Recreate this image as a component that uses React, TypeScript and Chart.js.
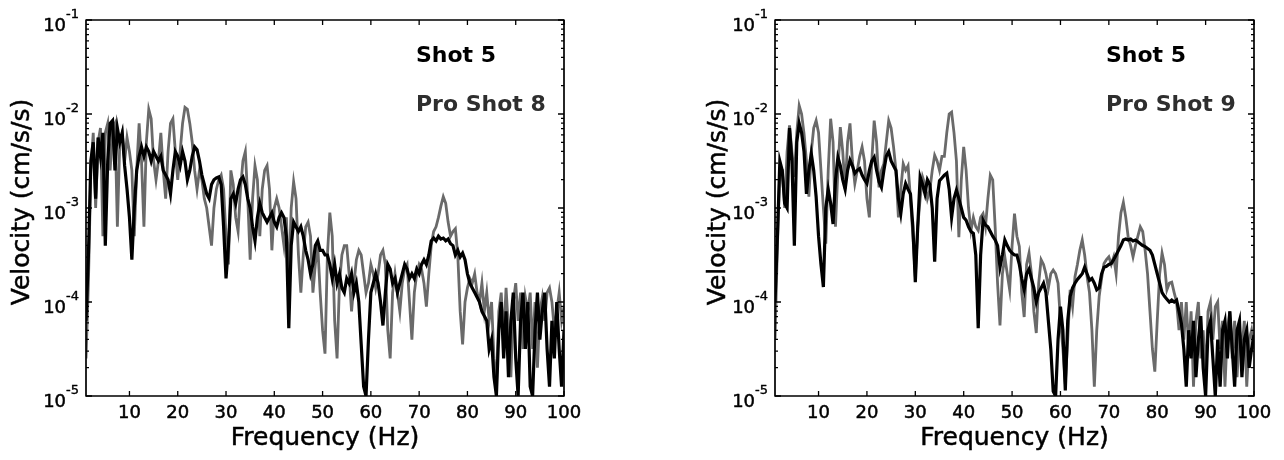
import React, { useEffect, useRef } from "react";
import { Chart, registerables } from "chart.js";

Chart.register(...registerables);

// Frequency grid (Hz)
const freqHz = [
  1, 1.5, 2, 2.5, 3, 3.5, 4, 4.5, 5, 5.5,
  6, 6.5, 7, 7.5, 8, 8.5, 9, 9.5, 10, 10.5,
  11, 11.5, 12, 12.5, 13, 13.5, 14, 14.5, 15, 15.5,
  16, 16.5, 17, 17.5, 18, 18.5, 19, 19.5, 20, 20.5,
  21, 21.5, 22, 22.5, 23, 23.5, 24, 24.5, 25, 25.5,
  26, 26.5, 27, 27.5, 28, 28.5, 29, 29.5, 30, 30.5,
  31, 31.5, 32, 32.5, 33, 33.5, 34, 34.5, 35, 35.5,
  36, 36.5, 37, 37.5, 38, 38.5, 39, 39.5, 40, 40.5,
  41, 41.5, 42, 42.5, 43, 43.5, 44, 44.5, 45, 45.5,
  46, 46.5, 47, 47.5, 48, 48.5, 49, 49.5, 50, 50.5,
  51, 51.5, 52, 52.5, 53, 53.5, 54, 54.5, 55, 55.5,
  56, 56.5, 57, 57.5, 58, 58.5, 59, 59.5, 60, 60.5,
  61, 61.5, 62, 62.5, 63, 63.5, 64, 64.5, 65, 65.5,
  66, 66.5, 67, 67.5, 68, 68.5, 69, 69.5, 70, 70.5,
  71, 71.5, 72, 72.5, 73, 73.5, 74, 74.5, 75, 75.5,
  76, 76.5, 77, 77.5, 78, 78.5, 79, 79.5, 80, 80.5,
  81, 81.5, 82, 82.5, 83, 83.5, 84, 84.5, 85, 85.5,
  86, 86.5, 87, 87.5, 88, 88.5, 89, 89.5, 90, 90.5,
  91, 91.5, 92, 92.5, 93, 93.5, 94, 94.5, 95, 95.5,
  96, 96.5, 97, 97.5, 98, 98.5, 99, 99.5, 100,
];

// Velocity values stored as log10(cm/s/s)
const shot5LeftLog = [
  -4.2, -3.5, -2.5, -2.3, -2.9, -2.25, -2.45, -2.2, -3.4, -2.5,
  -2.1, -2.07, -2.6, -2.15, -2.3, -2.2, -2.55, -2.8, -3.1, -3.55,
  -3.0, -2.6, -2.45, -2.35, -2.45, -2.35, -2.4, -2.5, -2.4, -2.45,
  -2.5, -2.45, -2.6, -2.65, -2.7, -2.85, -2.6, -2.4, -2.45, -2.55,
  -2.4, -2.5, -2.7, -2.6, -2.45, -2.35, -2.38, -2.5, -2.65, -2.75,
  -2.85, -2.9, -2.75, -2.7, -2.68, -2.67, -2.75, -3.2, -3.75, -3.4,
  -2.9, -2.85, -2.95, -2.8, -2.7, -2.67, -2.75, -2.9, -3.0, -3.2,
  -3.35, -3.1, -2.95, -3.05, -3.1, -3.15, -3.1, -3.05, -3.15, -3.2,
  -3.1, -3.05, -3.1, -3.3, -4.28, -3.4, -3.15, -3.2, -3.25, -3.2,
  -3.3, -3.45, -3.55, -3.7, -3.6, -3.4, -3.35, -3.45, -3.45, -3.5,
  -3.5, -3.6, -3.75, -3.6, -3.8, -3.7, -3.85, -3.9, -3.75, -3.8,
  -3.7, -3.9, -3.8, -4.0, -4.45, -4.9, -5.0, -4.4, -3.9, -3.8,
  -3.7, -3.8, -4.0, -4.25, -3.9, -3.6, -3.65, -3.8, -3.75, -3.9,
  -3.8, -3.7, -3.6, -3.65, -3.75, -3.7, -3.75, -3.65, -3.7, -3.6,
  -3.55, -3.6, -3.5, -3.35, -3.32, -3.35, -3.3, -3.33, -3.32, -3.35,
  -3.33, -3.38, -3.4, -3.5, -3.45, -3.52, -3.48, -3.55, -3.7, -3.8,
  -3.85, -3.9, -3.95, -4.0, -4.1, -4.15, -4.2, -4.5, -4.4, -4.8,
  -5.0, -4.3, -4.0, -4.6, -4.1, -4.8, -4.2, -3.9, -4.6, -5.0,
  -4.2, -3.9, -4.5, -4.0, -4.9, -5.0, -4.3, -3.9, -4.4, -4.1,
  -3.9, -4.5, -4.9, -4.2, -4.6, -4.0, -4.5, -4.9, -4.3,
];

const proShot8Log = [
  -4.6, -3.8, -2.6, -2.2, -3.0, -2.3, -2.15, -3.3, -2.2, -2.1,
  -2.6, -2.15, -2.1, -3.2, -2.3, -2.2, -2.5, -2.25, -2.4, -2.6,
  -3.3, -2.6, -2.1, -2.5, -3.2, -2.3, -1.95, -2.05, -2.5, -2.7,
  -2.5, -2.2, -2.6, -2.9, -2.4, -2.1, -2.05, -2.4, -2.7, -2.4,
  -2.1, -1.93, -1.95, -2.1, -2.3, -2.6, -2.8, -2.6, -2.7, -2.9,
  -3.0, -3.2, -3.4, -3.0, -2.8, -2.7, -2.65, -2.8, -3.3, -3.6,
  -2.6, -2.75, -3.1, -3.25, -2.8, -2.5, -2.4, -2.9, -3.55, -2.9,
  -2.55, -2.7, -3.3, -2.8, -2.6, -2.55, -2.8, -3.45, -3.0, -2.9,
  -3.0, -3.2, -3.4, -3.1, -3.8, -3.0, -2.72, -2.9, -3.5, -3.9,
  -3.5, -3.2, -3.15, -3.3, -3.9, -3.6, -3.4, -3.9, -4.3, -4.55,
  -3.5, -3.05, -3.3, -4.2, -4.6, -3.8, -3.5, -3.4, -3.4, -3.7,
  -4.1, -3.8, -3.55, -3.45, -3.5, -3.7, -3.9, -3.8, -3.6, -3.7,
  -3.85, -3.7, -3.5, -3.45, -3.6, -4.3, -4.6, -3.9, -3.7, -3.9,
  -4.1, -3.8, -3.65, -3.6, -4.0, -4.4, -3.9, -3.7, -3.6, -3.65,
  -3.8, -4.05, -3.7, -3.4, -3.25, -3.2, -3.1, -2.98, -2.88, -2.95,
  -3.15, -3.3, -3.25, -3.22, -3.5, -4.1, -4.45, -4.0, -3.85, -3.75,
  -3.8, -3.7, -3.9, -4.0, -3.8, -4.1, -3.9, -4.2, -4.0, -4.6,
  -4.9, -4.1, -3.9, -4.4, -3.85, -4.3, -4.8, -4.0, -3.8, -4.2,
  -3.9, -4.5, -3.95, -4.1, -3.9, -4.5, -4.0, -4.7, -4.1, -3.95,
  -4.2, -3.9, -3.85, -4.0, -4.3, -4.1, -3.9, -4.2, -4.05,
];

const shot5RightLog = [
  -4.0, -3.3, -2.5, -2.6, -2.95, -3.0, -2.15, -2.5, -3.4, -2.3,
  -2.1, -2.2, -2.4, -2.85, -2.6, -2.42, -2.6, -2.88, -3.3, -3.6,
  -3.84, -3.0, -2.8, -2.95, -3.17, -2.7, -2.46, -2.55, -2.7, -2.8,
  -2.6, -2.49, -2.55, -2.63, -2.6, -2.58, -2.65, -2.7, -2.74, -2.6,
  -2.5, -2.46, -2.6, -2.72, -2.78, -2.6, -2.45, -2.4, -2.5, -2.55,
  -2.6, -2.9, -3.06, -2.85, -2.74, -2.8, -2.85, -3.2, -3.79, -3.2,
  -2.67, -2.75, -2.85, -2.7, -2.75, -3.0, -3.57, -2.9, -2.71, -2.68,
  -2.65, -2.63, -2.8, -3.1, -2.9, -2.81, -2.9, -3.0, -3.1, -3.13,
  -3.2, -3.25, -3.27, -3.5, -4.28, -3.5, -3.13, -3.18, -3.2, -3.25,
  -3.3, -3.34, -3.4, -3.63, -3.5, -3.34, -3.4, -3.45, -3.48, -3.5,
  -3.5, -3.6, -3.75, -3.87, -3.7, -3.65, -3.75, -3.85, -4.0, -3.9,
  -3.85, -3.8, -3.9, -4.2, -4.5, -4.95, -5.0, -4.4, -4.05, -4.3,
  -4.94, -4.2, -3.94, -3.85, -3.8, -3.76, -3.73, -3.7, -3.63, -3.7,
  -3.77, -3.75, -3.8, -3.87, -3.85, -3.7, -3.63, -3.62, -3.6, -3.59,
  -3.55, -3.5, -3.45, -3.4, -3.34, -3.33, -3.34, -3.33, -3.35, -3.34,
  -3.36, -3.38, -3.4, -3.41, -3.43, -3.45, -3.5, -3.6, -3.7, -3.8,
  -3.9, -3.94, -3.97, -4.0, -3.98, -4.0, -3.98, -4.1, -4.23, -4.5,
  -4.9, -4.3, -4.6, -4.2, -4.8, -4.4, -4.15, -4.7, -5.0, -4.3,
  -4.2, -4.6, -5.0, -4.4, -4.9, -4.3, -4.2, -4.6, -4.1, -4.5,
  -4.9, -4.3, -4.2, -4.8, -4.4, -4.3, -4.7, -4.5, -4.35,
];

const proShot9Log = [
  -4.4, -3.4, -2.6, -2.6, -3.0, -2.4, -2.12, -2.4, -2.67, -2.2,
  -1.91, -2.0, -2.21, -2.5, -2.88, -2.4, -2.15, -2.07, -2.2, -2.6,
  -3.0, -3.38, -2.6, -2.05, -2.3, -3.2, -2.6, -2.14, -2.4, -2.8,
  -2.3, -2.1, -2.5, -2.74, -2.6, -2.45, -2.35, -2.5, -2.9, -3.1,
  -2.5, -2.07, -2.3, -2.78, -2.6, -2.53, -2.3, -2.07, -2.15, -2.35,
  -2.6, -3.1, -2.8, -2.53, -2.6, -2.55, -2.9, -3.3, -3.73, -3.2,
  -2.9, -2.67, -2.75, -2.9, -2.81, -2.6, -2.44, -2.5, -2.6, -2.45,
  -2.45, -2.2, -2.0, -1.98, -2.2, -2.5, -3.31, -2.7, -2.35, -2.6,
  -3.0, -3.24, -3.1, -3.2, -3.24, -3.1, -3.06, -3.2, -2.9, -2.65,
  -2.7, -3.2, -3.8, -4.25, -3.7, -3.52, -3.7, -3.87, -3.4, -3.06,
  -3.3, -3.41, -3.9, -4.16, -3.6, -3.48, -3.7, -4.1, -4.33, -3.8,
  -3.55, -3.6, -3.7, -3.85, -3.7, -3.66, -3.7, -3.8, -4.2, -4.5,
  -4.87, -4.4, -3.87, -4.05, -3.73, -3.6, -3.45, -3.34, -3.5, -3.73,
  -3.9, -4.3, -4.9, -4.3, -3.94, -3.75, -3.59, -3.55, -3.52, -3.6,
  -3.52, -3.7, -3.3, -3.05, -2.94, -3.1, -3.31, -3.4, -3.52, -3.4,
  -3.3, -3.2, -3.25, -3.45, -3.7, -4.1, -4.5, -4.74, -4.2, -3.7,
  -3.48, -3.6, -3.87, -3.8, -3.79, -3.9, -4.0, -4.3, -4.0, -4.4,
  -4.0, -4.5, -4.1, -4.9, -4.2, -4.0, -4.6, -4.3, -4.8, -4.1,
  -4.0, -4.4, -4.05, -4.0, -4.5, -4.2, -4.9, -4.3, -4.1, -4.6,
  -4.2, -4.8, -4.3, -4.5, -4.2, -4.9, -4.4, -4.3, -4.5,
];

const xTickValues = [10, 20, 30, 40, 50, 60, 70, 80, 90, 100];
const yDecadeExponents = [-5, -4, -3, -2, -1];
const xTitle = "Frequency (Hz)";
const yTitle = "Velocity (cm/s/s)";
const shotLabel = "Shot 5";
const leftProLabel = "Pro Shot 8";
const rightProLabel = "Pro Shot 9";

const FONT = "'DejaVu Sans', 'Liberation Sans', Arial, sans-serif";

function toPoints(logs: number[]) {
  const n = Math.min(freqHz.length, logs.length);
  const pts: { x: number; y: number }[] = [];
  for (let i = 0; i < n; i++) pts.push({ x: freqHz[i], y: Math.pow(10, logs[i]) });
  return pts;
}

function heavyText(ctx: CanvasRenderingContext2D, s: string, x: number, y: number, w: number) {
  ctx.fillText(s, x, y);
  if (w > 0) {
    ctx.lineWidth = w;
    ctx.strokeText(s, x, y);
  }
}

const matlabAxes = {
  id: "matlabAxes",
  afterDraw(chart: any, _args: any, opts: any) {
    const ctx: CanvasRenderingContext2D = chart.ctx;
    const { left, right, top, bottom } = chart.chartArea;
    const xs = chart.scales.x;
    const ys = chart.scales.y;
    ctx.save();
    ctx.strokeStyle = "#000";
    ctx.fillStyle = "#000";
    ctx.lineJoin = "round";
    ctx.lineWidth = 1.7;
    ctx.strokeRect(left, top, right - left, bottom - top);

    // x ticks (bottom and top, inward)
    ctx.lineWidth = 1.3;
    ctx.beginPath();
    for (const t of xTickValues) {
      const px = xs.getPixelForValue(t);
      ctx.moveTo(px, bottom);
      ctx.lineTo(px, bottom - 5);
      ctx.moveTo(px, top);
      ctx.lineTo(px, top + 5);
    }
    ctx.stroke();

    // y ticks (major + minor), both sides, inward
    ctx.beginPath();
    for (const d of yDecadeExponents) {
      for (let m = 1; m <= 9; m++) {
        const v = m * Math.pow(10, d);
        if (v > 0.1000001) break;
        const py = ys.getPixelForValue(v);
        const len = m === 1 ? 6 : 3;
        ctx.moveTo(left, py);
        ctx.lineTo(left + len, py);
        ctx.moveTo(right, py);
        ctx.lineTo(right - len, py);
      }
    }
    ctx.stroke();

    // x tick labels
    ctx.font = `18px ${FONT}`;
    ctx.textAlign = "center";
    ctx.textBaseline = "middle";
    for (const t of xTickValues) {
      heavyText(ctx, String(t), xs.getPixelForValue(t), bottom + 17, 0.5);
    }

    // y tick labels 10^n
    for (const d of yDecadeExponents) {
      const py = ys.getPixelForValue(Math.pow(10, d));
      const sup = String(d);
      ctx.font = `13px ${FONT}`;
      const supW = ctx.measureText(sup).width;
      ctx.textAlign = "right";
      ctx.textBaseline = "middle";
      heavyText(ctx, sup, left - 7, py - 5, 0.4);
      ctx.font = `18px ${FONT}`;
      heavyText(ctx, "10", left - 7 - supW, py + 6, 0.5);
    }

    // axis titles
    ctx.font = `25px ${FONT}`;
    ctx.textAlign = "center";
    ctx.textBaseline = "middle";
    heavyText(ctx, xTitle, (left + right) / 2, bottom + 42, 0.5);
    ctx.save();
    ctx.translate(left - opts.yTitleOffset, (top + bottom) / 2 - 6);
    ctx.rotate(-Math.PI / 2);
    heavyText(ctx, yTitle, 0, 0, 0.5);
    ctx.restore();

    // annotations
    ctx.font = `bold 22px ${FONT}`;
    ctx.textAlign = "left";
    ctx.textBaseline = "alphabetic";
    ctx.fillStyle = "#000";
    ctx.fillText(shotLabel, right - 148, top + 42);
    ctx.fillStyle = "#2e2e2e";
    ctx.fillText(opts.proLabel, right - 148, top + 91);
    ctx.restore();
  },
};

function makeChart(
  canvas: HTMLCanvasElement,
  blackLogs: number[],
  grayLogs: number[],
  proLabel: string,
  padding: any,
  yTitleOffset: number
) {
  return new Chart(canvas, {
    type: "line",
    data: {
      datasets: [
        {
          label: shotLabel,
          data: toPoints(blackLogs),
          borderColor: "#000",
          borderWidth: 3.2,
          pointRadius: 0,
          tension: 0,
          fill: false,
        },
        {
          label: proLabel,
          data: toPoints(grayLogs),
          borderColor: "#6a6a6a",
          borderWidth: 2.8,
          pointRadius: 0,
          tension: 0,
          fill: false,
        },
      ],
    },
    options: {
      animation: false,
      responsive: false,
      devicePixelRatio: 1,
      layout: { padding },
      parsing: false as any,
      scales: {
        x: { type: "linear", min: 1, max: 100, display: false },
        y: { type: "logarithmic", min: 1e-5, max: 1e-1, display: false },
      },
      plugins: {
        legend: { display: false },
        tooltip: { enabled: false },
        matlabAxes: { proLabel, yTitleOffset },
      } as any,
    },
    plugins: [matlabAxes as any],
  });
}

export default function App() {
  const leftRef = useRef<HTMLCanvasElement | null>(null);
  const rightRef = useRef<HTMLCanvasElement | null>(null);

  useEffect(() => {
    const a = makeChart(
      leftRef.current!,
      shot5LeftLog,
      proShot8Log,
      leftProLabel,
      { left: 86, right: 76, top: 20, bottom: 64 },
      64
    );
    const b = makeChart(
      rightRef.current!,
      shot5RightLog,
      proShot9Log,
      rightProLabel,
      { left: 135, right: 30, top: 20, bottom: 64 },
      57
    );
    return () => {
      a.destroy();
      b.destroy();
    };
  }, []);

  return (
    <div
      style={{
        position: "fixed",
        left: 0,
        top: 0,
        width: 1284,
        height: 460,
        background: "#fff",
      }}
    >
      <canvas
        ref={leftRef}
        width={640}
        height={460}
        style={{ position: "absolute", left: 0, top: 0, width: 640, height: 460 }}
      />
      <canvas
        ref={rightRef}
        width={644}
        height={460}
        style={{ position: "absolute", left: 640, top: 0, width: 644, height: 460 }}
      />
    </div>
  );
}
